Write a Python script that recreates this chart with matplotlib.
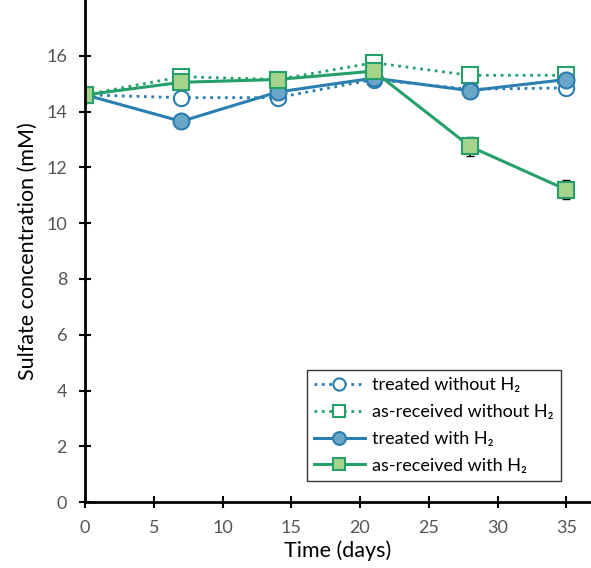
import numpy as np
import matplotlib
matplotlib.use('Agg')
from matplotlib import pyplot as plt

days = [0, 7, 14, 21, 28, 35]
treated_no_h2 = [14.6, 14.5, 14.5, 15.15, 14.8, 14.85]
asrec_no_h2 = [14.6, 15.25, 15.15, 15.75, 15.3, 15.3]
treated_h2 = [14.6, 13.65, 14.7, 15.2, 14.75, 15.15]
asrec_h2 = [14.6, 15.05, 15.15, 15.45, 12.75, 11.2]
asrec_h2_err = [0, 0, 0, 0, 0.35, 0.35]

blue = '#2a7fb0'
blue_fill = '#6aa6c8'
green = '#25a06a'
green_fill = '#a5d48c'

plt.rcParams['font.family'] = ['Lato', 'DejaVu Sans']

fig = plt.figure(figsize=(5.91, 5.68), dpi=100)
ax = fig.add_axes([0.144, 0.116, 0.856, 0.884])

ax.plot(days, treated_no_h2, linestyle=':', color=blue, lw=2, marker='o', ms=11,
        mfc='white', mec=blue, mew=1.5, label='treated without H\u2082')
ax.plot(days, asrec_no_h2, linestyle=':', color=green, lw=2, marker='s', ms=11,
        mfc='white', mec=green, mew=1.5, label='as-received without H\u2082')
ax.plot(days, treated_h2, linestyle='-', color=blue, lw=2.2, marker='o', ms=11.5,
        mfc=blue_fill, mec=blue, mew=1.5, label='treated with H\u2082')
ax.errorbar(days, asrec_h2, yerr=asrec_h2_err, fmt='none', ecolor='black',
            elinewidth=1.2, capsize=3)
ax.plot(days, asrec_h2, linestyle='-', color=green, lw=2.2, marker='s', ms=11.5,
        mfc=green_fill, mec=green, mew=1.5, label='as-received with H\u2082')

ax.set_xlim(0, 36.8)
ax.set_ylim(0, 18)
ax.set_xticks(range(0, 40, 5))
ax.set_yticks(range(0, 18, 2))
for s in ['top', 'right']:
    ax.spines[s].set_visible(False)
for s in ['left', 'bottom']:
    ax.spines[s].set_linewidth(2)
ax.tick_params(direction='inout', length=8, width=1.5, labelsize=13, labelcolor='#555555')
ax.tick_params(axis='x', pad=9)
ax.tick_params(axis='y', pad=9)
ax.set_xlabel('Time (days)', fontsize=15.5, labelpad=3)
ax.set_ylabel('Sulfate concentration (mM)', fontsize=15.5, labelpad=6)

leg = ax.legend(loc='lower right', bbox_to_anchor=(0.94, 0.042), fontsize=13,
                frameon=True, fancybox=False, edgecolor='black', handlelength=2.8,
                handletextpad=0.4, markerscale=0.8, borderaxespad=0, labelspacing=0.6)
leg.get_frame().set_linewidth(1)

fig.savefig('out.png')
